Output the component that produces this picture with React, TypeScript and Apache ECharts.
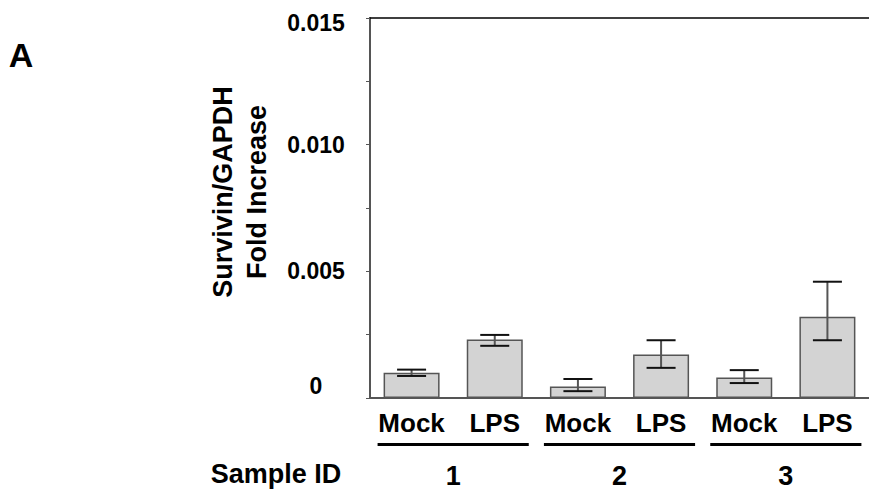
import React, { useEffect, useRef } from "react";
import * as echarts from "echarts";

const categories = ["Mock", "LPS", "Mock", "LPS", "Mock", "LPS"];
const sampleIds = ["1", "2", "3"];
const meanValues = [0.001, 0.00231, 0.00045, 0.00172, 0.00081, 0.00321];
const errorLow = [0.00087, 0.00206, 0.00027, 0.00119, 0.00059, 0.00228];
const errorHigh = [0.00112, 0.00249, 0.00075, 0.00228, 0.0011, 0.00459];
const yTicks = [0, 0.005, 0.01, 0.015];

const FONT = "'Liberation Sans', Arial, sans-serif";

export default function App() {
  const ref = useRef<HTMLDivElement>(null);

  useEffect(() => {
    if (!ref.current) return;
    const chart = echarts.init(ref.current, undefined, { renderer: "svg" });
    const yMin = yTicks[0];
    const yMax = yTicks[yTicks.length - 1];
    const yInterval = yTicks[1] - yTicks[0];

    const option: any = {
      animation: false,
      backgroundColor: "#ffffff",
      grid: { left: 370, top: 18, bottom: 96, width: 507, containLabel: false },
      xAxis: [
        {
          type: "category",
          data: categories,
          position: "bottom",
          axisLine: { show: true, lineStyle: { color: "#555", width: 2 } },
          axisTick: { show: false },
          axisLabel: {
            interval: 0,
            hideOverlap: false,
            margin: 12,
            fontSize: 26,
            fontWeight: "bold",
            fontFamily: FONT,
            color: "#000",
            lineHeight: 26,
          },
        },
        {
          type: "category",
          data: sampleIds,
          position: "bottom",
          axisLine: { show: false },
          axisTick: { show: false },
          axisLabel: {
            interval: 0,
            margin: 64,
            fontSize: 27,
            fontWeight: "bold",
            fontFamily: FONT,
            color: "#000",
            lineHeight: 27,
          },
        },
        {
          type: "category",
          data: categories,
          position: "top",
          axisLine: { show: true, lineStyle: { color: "#000", width: 1.5 } },
          axisTick: { show: false },
          axisLabel: { show: false },
        },
      ],
      yAxis: {
        type: "value",
        min: yMin,
        max: yMax,
        interval: yInterval,
        axisLine: { show: true, lineStyle: { color: "#555", width: 2 } },
        axisTick: { show: true, length: 4, lineStyle: { color: "#555", width: 1 } },
        minorTick: { show: true, splitNumber: 2, length: 4, lineStyle: { color: "#555", width: 1 } },
        splitLine: { show: false },
        axisLabel: {
          margin: 54,
          align: "center",
          fontSize: 23,
          fontWeight: "bold",
          fontFamily: FONT,
          color: "#000",
          formatter: (v: number) => {
            if (Math.abs(v - yMin) < 1e-12) return "{bot|0}";
            if (Math.abs(v - yMax) < 1e-12) return "{top|" + v.toFixed(3) + "}";
            return v.toFixed(3);
          },
          rich: {
            top: {
              fontSize: 23,
              fontWeight: "bold",
              fontFamily: FONT,
              color: "#000",
              padding: [10, 0, 0, 0],
            },
            bot: {
              fontSize: 23,
              fontWeight: "bold",
              fontFamily: FONT,
              color: "#000",
              padding: [0, 0, 24, 0],
            },
          },
        },
      },
      series: [
        {
          type: "bar",
          xAxisIndex: 0,
          data: meanValues,
          barWidth: 56,
          itemStyle: { color: "#d3d3d3", borderColor: "#555", borderWidth: 1.5 },
          z: 2,
        },
        {
          type: "custom",
          xAxisIndex: 0,
          z: 3,
          data: categories.map((_, i) => [i, errorLow[i], errorHigh[i]]),
          renderItem: (params: any, api: any) => {
            const x = api.value(0);
            const lo = api.value(1);
            const hi = api.value(2);
            const pHi = api.coord([x, hi]);
            const pLo = api.coord([x, lo]);
            const half = 14.5;
            return {
              type: "group",
              children: [
                {
                  type: "line",
                  shape: { x1: pHi[0], y1: pHi[1], x2: pLo[0], y2: pLo[1] },
                  style: { stroke: "#555", lineWidth: 2 },
                },
                {
                  type: "line",
                  shape: { x1: pHi[0] - half, y1: pHi[1], x2: pHi[0] + half, y2: pHi[1] },
                  style: { stroke: "#111", lineWidth: 2 },
                },
                {
                  type: "line",
                  shape: { x1: pLo[0] - half, y1: pLo[1], x2: pLo[0] + half, y2: pLo[1] },
                  style: { stroke: "#111", lineWidth: 2 },
                },
              ],
            };
          },
        },
      ],
    };
    chart.setOption(option);

    const graphics: any[] = [
      {
        type: "text",
        x: 21,
        y: 55,
        style: {
          text: "A",
          fontSize: 34,
          fontWeight: "bold",
          fontFamily: FONT,
          fill: "#000",
          align: "center",
          verticalAlign: "middle",
        },
      },
      {
        type: "text",
        x: 240,
        y: 192,
        rotation: Math.PI / 2,
        style: {
          text: "Survivin/GAPDH\nFold Increase",
          fontSize: 27,
          lineHeight: 34,
          fontWeight: "bold",
          fontFamily: FONT,
          fill: "#000",
          align: "center",
          verticalAlign: "middle",
        },
      },
      {
        type: "text",
        x: 276,
        y: 474,
        style: {
          text: "Sample ID",
          fontSize: 27,
          fontWeight: "bold",
          fontFamily: FONT,
          fill: "#000",
          align: "center",
          verticalAlign: "middle",
        },
      },
    ];
    for (let g = 0; g < sampleIds.length; g++) {
      const xa = chart.convertToPixel({ xAxisIndex: 0 }, 2 * g) as number;
      const xb = chart.convertToPixel({ xAxisIndex: 0 }, 2 * g + 1) as number;
      graphics.push({
        type: "line",
        shape: { x1: xa - 34, y1: 444.5, x2: xb + 34, y2: 444.5 },
        style: { stroke: "#000", lineWidth: 3 },
      });
    }
    chart.setOption({ graphic: graphics });

    return () => chart.dispose();
  }, []);

  return (
    <div
      ref={ref}
      style={{ position: "absolute", left: 0, top: 0, width: 869, height: 494 }}
    />
  );
}
